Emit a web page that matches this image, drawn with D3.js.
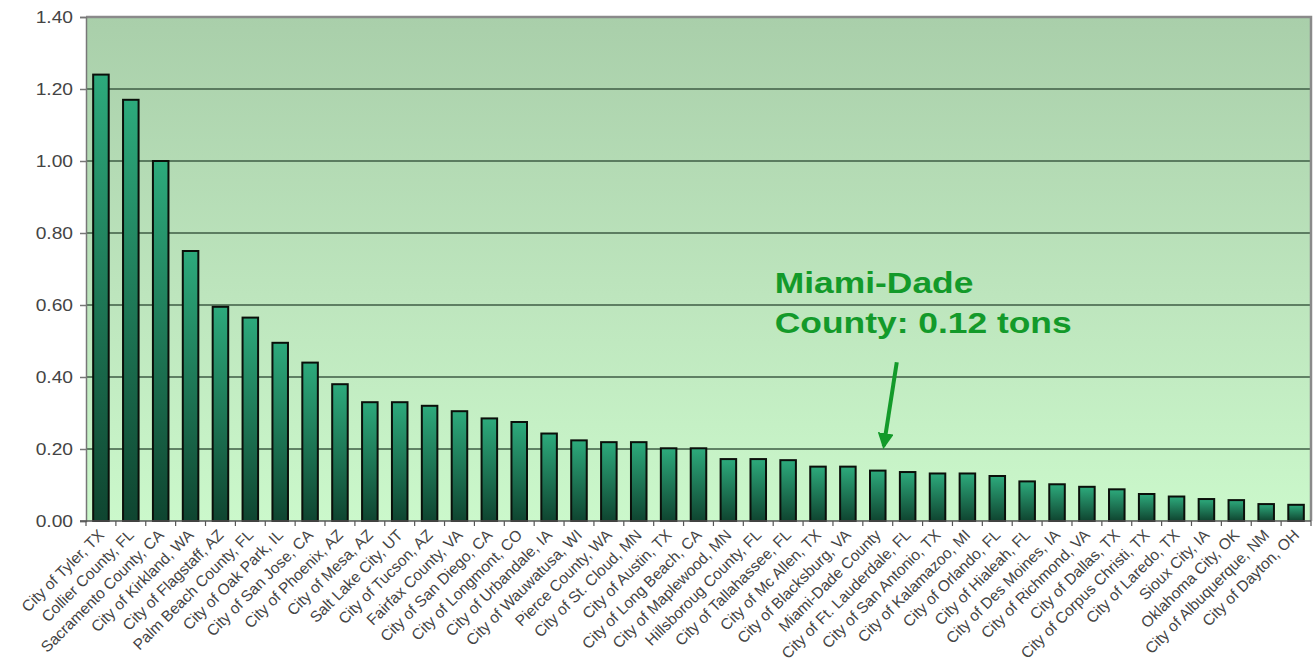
<!DOCTYPE html>
<html>
<head>
<meta charset="utf-8">
<script src="https://cdn.jsdelivr.net/npm/d3@7"></script>
<style>
  body { margin: 0; background: #ffffff; }
  svg { display: block; font-family: "Liberation Sans", Arial, sans-serif; }
</style>
</head>
<body>
<div id="chart"></div>
<script>
// Declare constants
const FRAME_HEIGHT = 665;
const FRAME_WIDTH = 1315;
const MARGINS = {left: 86, right: 4, top: 17, bottom: 144};

const VIS_HEIGHT = FRAME_HEIGHT - MARGINS.top - MARGINS.bottom;
const VIS_WIDTH = FRAME_WIDTH - MARGINS.left - MARGINS.right;

// data
const CITIES = [
  "City of Tyler, TX", "Collier County, FL", "Sacramento County, CA", "City of Kirkland, WA",
  "City of Flagstaff, AZ", "Palm Beach County, FL", "City of Oak Park, IL", "City of San Jose, CA",
  "City of Phoenix, AZ", "City of Mesa, AZ", "Salt Lake City, UT", "City of Tucson, AZ",
  "Fairfax County, VA", "City of San Diego, CA", "City of Longmont, CO", "City of Urbandale, IA",
  "City of Wauwatusa, WI", "Pierce County, WA", "City of St. Cloud, MN", "City of Austin, TX",
  "City of Long Beach, CA", "City of Maplewood, MN", "Hillsboroug County, FL", "City of Tallahassee, FL",
  "City of Mc Allen, TX", "City of Blacksburg, VA", "Miami-Dade County", "City of Ft. Lauderdale, FL",
  "City of San Antonio, TX", "City of Kalamazoo, MI", "City of Orlando, FL", "City of Hialeah, FL",
  "City of Des Moines, IA", "City of Richmond, VA", "City of Dallas, TX", "City of Corpus Christi, TX",
  "City of Laredo, TX", "Sioux City, IA", "Oklahoma City, OK", "City of Albuquerque, NM",
  "City of Dayton, OH"
];
const TONS = [
  1.24, 1.17, 1.00, 0.75, 0.595, 0.565, 0.495, 0.44, 0.38, 0.33, 0.33, 0.32, 0.305, 0.285,
  0.275, 0.243, 0.224, 0.219, 0.219, 0.202, 0.202, 0.172, 0.172, 0.169, 0.151, 0.151,
  0.14, 0.136, 0.132, 0.132, 0.125, 0.11, 0.102, 0.095, 0.088, 0.075, 0.068, 0.061,
  0.058, 0.047, 0.045
];
const Y_TICKS = [0, 0.2, 0.4, 0.6, 0.8, 1.0, 1.2, 1.4];
const NOTE_CITY = "Miami-Dade County";
const NOTE_LINES = ["Miami-Dade", "County: 0.12 tons"];

const data = CITIES.map((c, i) => ({city: c, tons: TONS[i]}));

const FRAME = d3.select("#chart")
                .append("svg")
                  .attr("height", FRAME_HEIGHT)
                  .attr("width", FRAME_WIDTH);

// gradients for the plot background and the bars
const defs = FRAME.append("defs");
const bg = defs.append("linearGradient")
                .attr("id", "bg").attr("x1", 0).attr("y1", 0).attr("x2", 0).attr("y2", 1);
bg.append("stop").attr("offset", "0%").attr("stop-color", "#a9cfaa");
bg.append("stop").attr("offset", "55%").attr("stop-color", "#bde5bd");
bg.append("stop").attr("offset", "100%").attr("stop-color", "#cbf8cb");

const barGrad = defs.append("linearGradient")
                .attr("id", "barGrad").attr("x1", 0).attr("y1", 0).attr("x2", 0).attr("y2", 1);
barGrad.append("stop").attr("offset", "0%").attr("stop-color", "#2daa7c");
barGrad.append("stop").attr("offset", "100%").attr("stop-color", "#0f4530");

defs.append("marker")
      .attr("id", "arrow")
      .attr("viewBox", "0 0 10 10")
      .attr("refX", 8).attr("refY", 5)
      .attr("markerWidth", 4).attr("markerHeight", 4)
      .attr("markerUnits", "strokeWidth")
      .attr("orient", "auto")
    .append("path")
      .attr("d", "M0,0 L10,5 L0,10 z")
      .attr("fill", "#139a2a");

// scale functions
const X_SCALE = d3.scaleBand()
                  .domain(CITIES)
                  .range([0, VIS_WIDTH])
                  .paddingInner(0.48)
                  .paddingOuter(0.24);

const Y_SCALE = d3.scaleLinear()
                  .domain([0, 1.4])
                  .range([VIS_HEIGHT, 0]);

const plot = FRAME.append("g")
                  .attr("transform", "translate(" + MARGINS.left + "," + MARGINS.top + ")");

// background
plot.append("rect")
      .attr("width", VIS_WIDTH)
      .attr("height", VIS_HEIGHT)
      .attr("fill", "url(#bg)");

// gridlines
plot.selectAll(".grid")
      .data(Y_TICKS.filter(t => t > 0 && t < 1.4))
      .enter()
      .append("line")
        .attr("x1", 0).attr("x2", VIS_WIDTH)
        .attr("y1", d => Y_SCALE(d)).attr("y2", d => Y_SCALE(d))
        .attr("stroke", "#3e5c44")
        .attr("stroke-width", 1.5);

// border top and right
plot.append("path")
      .attr("d", "M0,0 H" + VIS_WIDTH + " V" + VIS_HEIGHT)
      .attr("fill", "none")
      .attr("stroke", "#8a8a8a")
      .attr("stroke-width", 2.5);

// bars
plot.selectAll(".bar")
      .data(data)
      .enter()
      .append("rect")
        .attr("x", d => X_SCALE(d.city))
        .attr("y", d => Y_SCALE(d.tons))
        .attr("width", X_SCALE.bandwidth())
        .attr("height", d => VIS_HEIGHT - Y_SCALE(d.tons))
        .attr("fill", "url(#barGrad)")
        .attr("stroke", "#0a0f0a")
        .attr("stroke-width", 2);

// y axis
const yAxis = plot.append("g")
      .call(d3.axisLeft(Y_SCALE).tickValues(Y_TICKS).tickSize(6).tickFormat(d3.format(".2f")));
yAxis.select(".domain").attr("stroke", "#777").attr("stroke-width", 1.5);
yAxis.selectAll(".tick line").attr("stroke", "#777").attr("stroke-width", 1.5);
yAxis.selectAll(".tick text")
      .attr("x", 0).attr("dy", 0)
      .attr("font-size", "16px")
      .attr("fill", "#444")
      .attr("dominant-baseline", "central")
      .attr("transform", "translate(-13,0) scale(1.2,1)");

// x axis: ticks between bars
const xAxis = plot.append("g")
      .attr("transform", "translate(0," + VIS_HEIGHT + ")");
xAxis.append("line")
      .attr("x1", -6).attr("x2", VIS_WIDTH)
      .attr("stroke", "#555").attr("stroke-width", 1.5);
const step = X_SCALE.step();
const firstEdge = X_SCALE(CITIES[0]) - step * X_SCALE.paddingInner() / 2;
xAxis.selectAll(".xt")
      .data(d3.range(CITIES.length + 1))
      .enter()
      .append("line")
        .attr("x1", i => firstEdge + i * step)
        .attr("x2", i => firstEdge + i * step)
        .attr("y1", 0).attr("y2", 5)
        .attr("stroke", "#555").attr("stroke-width", 1.2);

// rotated city labels
xAxis.selectAll(".xl")
      .data(CITIES)
      .enter()
      .append("text")
        .attr("text-anchor", "end")
        .attr("font-size", "15.5px")
        .attr("fill", "#444")
        .attr("transform", d => "translate(" + (X_SCALE(d) + X_SCALE.bandwidth() / 2 + 4) + ",15) rotate(-45)")
        .text(d => d);

// annotation
const noteX = X_SCALE(NOTE_CITY) + X_SCALE.bandwidth() / 2;
const note = plot.append("g")
      .attr("transform", "translate(" + (noteX - 103) + "," + (Y_SCALE(0.6) - 12) + ") scale(1.18,1)");
note.selectAll("text")
      .data(NOTE_LINES)
      .enter()
      .append("text")
        .attr("y", (d, i) => i * 40)
        .attr("font-size", "30px")
        .attr("font-weight", "bold")
        .attr("fill", "#139a2a")
        .text(d => d);

plot.append("line")
      .attr("x1", noteX + 19).attr("y1", Y_SCALE(0.43) - 4)
      .attr("x2", noteX + 6).attr("y2", Y_SCALE(0.2) - 3)
      .attr("stroke", "#139a2a")
      .attr("stroke-width", 4)
      .attr("marker-end", "url(#arrow)");
</script>
</body>
</html>
